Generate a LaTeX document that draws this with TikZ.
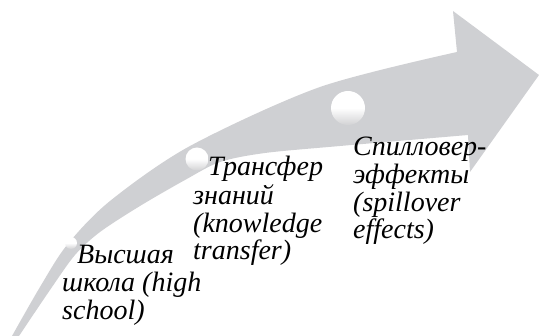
\documentclass[tikz,border=0pt]{standalone}
\usepackage{fontspec}
\setmainfont{Liberation Serif}
\begin{document}
\begin{tikzpicture}[x=1pt,y=-1pt]
\definecolor{arrowgray}{RGB}{207,208,211}
\definecolor{ballgray}{RGB}{210,210,212}
\tikzset{
  ball/.style={circle, inner sep=0pt, top color=white, bottom color=ballgray, middle color=white},
  lab/.style={anchor=north west, inner sep=0pt, align=left, font=\fontsize{28}{27.5}\selectfont\itshape}
}
\useasboundingbox (0,0) rectangle (539,336);
\fill[arrowgray] plot[smooth] coordinates {(12,336) (40,287) (67,245) (110,201) (190,146) (320,87) (457,52)}
  -- (453,11) -- (539,75) -- (470,172) -- (468,135)
  -- plot[smooth] coordinates {(468,135) (340,146) (265,153) (220,162) (185,180) (140,206) (100,232) (75,255) (50,290) (19,336)} -- cycle;
\node[ball, minimum size=12pt] (c1) at (71,243) {};
\node[ball, minimum size=23pt] (c2) at (197,159) {};
\node[ball, minimum size=34pt] (c3) at (348,108) {};
\node[lab] (t1) at (62,243.75) {\strut\hspace*{15pt}Высшая\\школа (high\\school)};
\node[lab] (t2) at (193,155.75) {\strut\hspace*{15pt}Трансфер\\знаний\\(knowledge\\transfer)};
\node[lab] (t3) at (353,135.75) {\strut Спилловер-\\эффекты\\(spillover\\effects)};
\end{tikzpicture}
\end{document}
